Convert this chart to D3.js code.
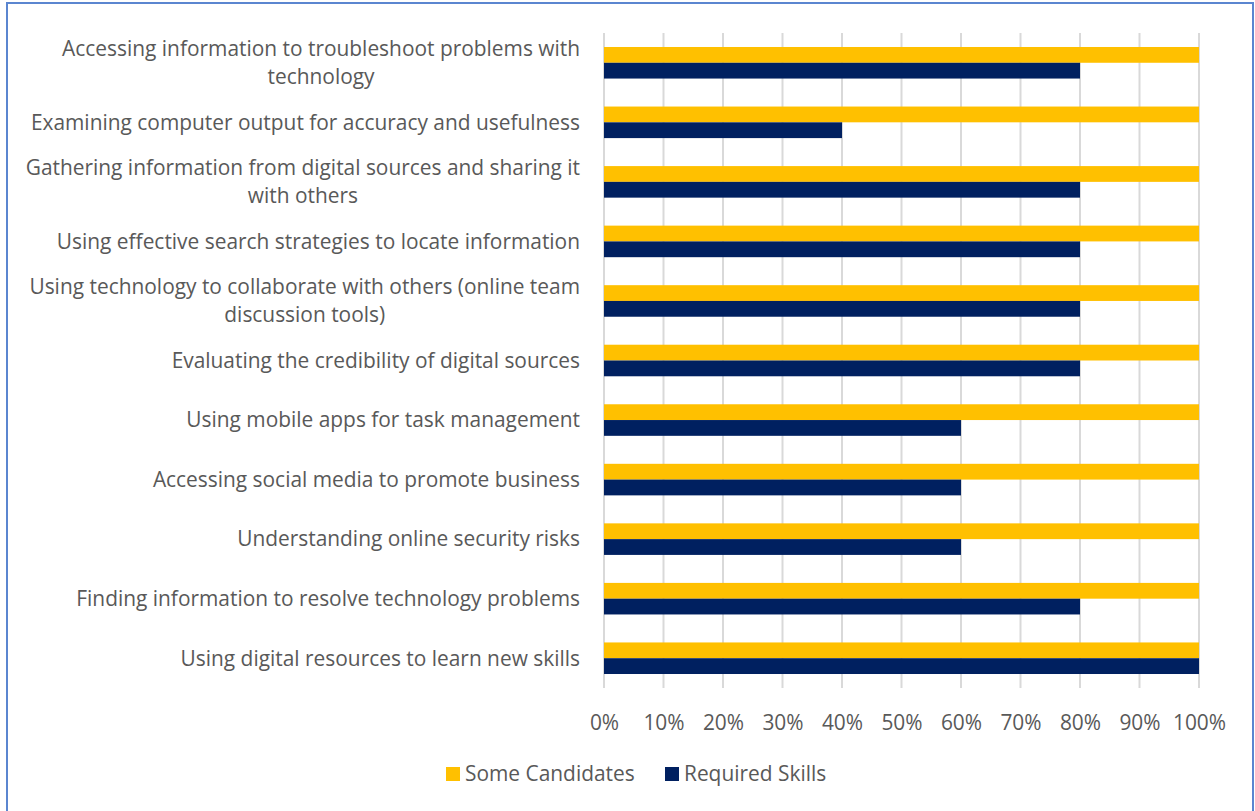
<!DOCTYPE html>
<html>
<head>
<meta charset="utf-8">
<script src="https://cdn.jsdelivr.net/npm/d3@7"></script>
<style>
  html, body { margin: 0; padding: 0; background: #fff; }
  svg { display: block; }
  text { font-family: "Open Sans", sans-serif; fill: #595959; }
</style>
</head>
<body>
<svg id="chart" width="1255" height="811"></svg>
<script>
// Skill categories, top to bottom, each split into its printed lines
const categories = [
  ["Accessing information to troubleshoot problems with", "technology"],
  ["Examining computer output for accuracy and usefulness"],
  ["Gathering information from digital sources and sharing it", "with others"],
  ["Using effective search strategies to locate information"],
  ["Using technology to collaborate with others (online team", "discussion tools)"],
  ["Evaluating the credibility of digital sources"],
  ["Using mobile apps for task management"],
  ["Accessing social media to promote business"],
  ["Understanding online security risks"],
  ["Finding information to resolve technology problems"],
  ["Using digital resources to learn new skills"]
];
const someCandidates = [1, 1, 1, 1, 1, 1, 1, 1, 1, 1, 1];
const requiredSkills = [0.8, 0.4, 0.8, 0.8, 0.8, 0.8, 0.6, 0.6, 0.6, 0.8, 1];
const tickValues = [0, 0.1, 0.2, 0.3, 0.4, 0.5, 0.6, 0.7, 0.8, 0.9, 1];
const seriesNames = ["Some Candidates", "Required Skills"];
const seriesColors = ["#FFC000", "#002060"];

const FONT = 20.9;
const svg = d3.select("#chart");

// outer frame
svg.append("rect")
  .attr("x", 7).attr("y", 3).attr("width", 1246).attr("height", 820)
  .attr("fill", "none").attr("stroke", "#5B86D0").attr("stroke-width", 2);

const plot = { left: 604, right: 1199, top: 33, bottom: 688 };

const x = d3.scaleLinear().domain([0, 1]).range([plot.left, plot.right]);
const y = d3.scaleBand().domain(d3.range(categories.length))
  .range([plot.top, plot.bottom]).paddingInner(0.47).paddingOuter(0.235);
const inner = d3.scaleBand().domain([0, 1]).range([0, y.bandwidth()]);

// vertical gridlines
svg.append("g").selectAll("line").data(tickValues).join("line")
  .attr("x1", d => x(d)).attr("x2", d => x(d))
  .attr("y1", plot.top).attr("y2", plot.bottom)
  .attr("stroke", "#D9D9D9").attr("stroke-width", 2);

// bars
const series = [someCandidates, requiredSkills];
series.forEach((vals, s) => {
  svg.append("g").selectAll("rect").data(vals).join("rect")
    .attr("x", x(0))
    .attr("y", (d, i) => y(i) + inner(s))
    .attr("width", d => x(d) - x(0))
    .attr("height", inner.bandwidth())
    .attr("fill", seriesColors[s]);
});

// category labels: lines centred on each other, block right-aligned
const labelG = svg.append("g");
categories.forEach((lines, i) => {
  const cy = y(i) + y.bandwidth() / 2;
  const lh = 28;
  const t = labelG.append("text")
    .attr("font-size", FONT)
    .attr("text-anchor", "middle");
  lines.forEach((ln, k) => {
    t.append("tspan").attr("x", 0)
      .attr("y", cy + (k - (lines.length - 1) / 2) * lh)
      .attr("dy", "0.35em").text(ln);
  });
  const w = t.node().getBBox().width;
  t.attr("transform", `translate(${580 - w / 2},0)`);
});

// x axis tick labels
const axis = d3.axisBottom(x).tickValues(tickValues).tickFormat(d3.format(".0%")).tickSize(0).tickPadding(0);
const axisG = svg.append("g").attr("transform", `translate(0,${plot.bottom})`).call(axis);
axisG.select(".domain").remove();
axisG.selectAll("text")
  .attr("y", 35).attr("dy", "0.35em")
  .attr("font-size", FONT)
  .style("font-family", "'Open Sans', sans-serif")
  .attr("fill", "#595959");

// legend
const legend = svg.append("g");
const legendX = [446, 665];
seriesNames.forEach((name, s) => {
  legend.append("rect").attr("x", legendX[s]).attr("y", 767)
    .attr("width", 14).attr("height", 14).attr("fill", seriesColors[s]);
  legend.append("text").attr("x", legendX[s] + 19).attr("y", 774)
    .attr("dy", "0.35em").attr("font-size", FONT).text(name);
});
</script>
</body>
</html>
